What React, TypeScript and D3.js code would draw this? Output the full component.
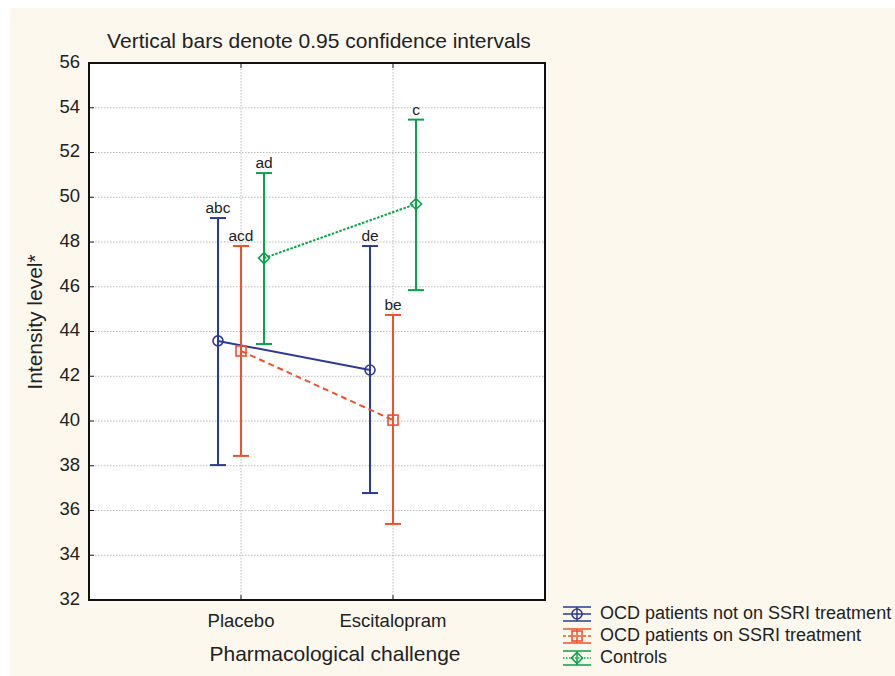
import * as d3 from 'd3';
import React from "react";

const categories = ["Placebo", "Escitalopram"];
const yTicks = [32, 34, 36, 38, 40, 42, 44, 46, 48, 50, 52, 54, 56];

const seriesNames = ["OCD patients not on SSRI treatment", "OCD patients on SSRI treatment", "Controls"];
const seriesColors = ["#2b3a97", "#f0502a", "#0aa24a"];
const seriesDash = ["", "6 4", "2.5 1.5"];
const seriesOffset = [-1, 0, 1];

const means = [[43.58, 42.28], [43.13, 40.04], [47.28, 49.7]];
const upper = [[49.07, 47.82], [47.82, 44.74], [51.08, 53.47]];
const lower = [[38.03, 36.78], [38.44, 35.4], [43.44, 45.85]];
const letters = [["abc", "de"], ["acd", "be"], ["ad", "c"]];

const font = "'Liberation Sans', Arial, sans-serif";

function Marker({ i, x, y, color }: { i: number; x: number; y: number; color: string }) {
    if (i === 0) return <circle cx={x} cy={y} r={5} fill="none" stroke={color} strokeWidth={1.6} />;
    if (i === 1) return <rect x={x - 5} y={y - 5} width={10} height={10} fill="none" stroke={color} strokeWidth={1.6} />;
    return <path d={`M${x},${y - 5.5}L${x + 5.5},${y}L${x},${y + 5.5}L${x - 5.5},${y}Z`} fill="none" stroke={color} strokeWidth={1.6} />;
}

export default function App() {
    const W = 895, H = 676;
    const m = { left: 89, right: 545, top: 63, bottom: 600 };
    const x = d3.scaleLinear().domain([0, 3]).range([m.left, m.right]);
    const y = d3.scaleLinear().domain([32, 56]).range([m.bottom, m.top]);
    const off = 23;
    const line = d3.line<[number, number]>().x(d => d[0]).y(d => d[1]);

    return (
        <svg width={W} height={H} style={{ position: "absolute", left: 0, top: 0 }} fontFamily={font}>
            <rect x={10} y={8} width={W - 10} height={H - 8} fill="#fcf8ee" />
            <rect x={m.left} y={m.top} width={m.right - m.left} height={m.bottom - m.top} fill="#fff" />
            {yTicks.map(t => (
                <g key={t}>
                    {t > 32 && t < 56 && <line x1={m.left} x2={m.right} y1={y(t)} y2={y(t)} stroke="#bbb" strokeDasharray="1.5 1.5" />}
                    <line x1={m.left} x2={m.left + 5} y1={y(t)} y2={y(t)} stroke="#222" />
                    <text x={80} y={y(t)} textAnchor="end" dominantBaseline="middle" fontSize={18.5} fill="#222">{t}</text>
                </g>
            ))}
            {categories.map((c, ci) => (
                <g key={c}>
                    <line x1={x(ci + 1)} x2={x(ci + 1)} y1={m.top} y2={m.bottom} stroke="#bbb" strokeDasharray="1.5 1.5" />
                    <line x1={x(ci + 1)} x2={x(ci + 1)} y1={m.bottom} y2={m.bottom - 5} stroke="#222" />
                    <line x1={x(ci + 1)} x2={x(ci + 1)} y1={m.top} y2={m.top + 5} stroke="#222" />
                    <text x={x(ci + 1)} y={627} textAnchor="middle" fontSize={18.5} fill="#222">{c}</text>
                </g>
            ))}
            <rect x={m.left} y={m.top} width={m.right - m.left} height={m.bottom - m.top} fill="none" stroke="#111" strokeWidth={2} />

            {seriesNames.map((s, si) => {
                const col = seriesColors[si];
                const pts: [number, number][] = means[si].map((v, ci) => [x(ci + 1) + seriesOffset[si] * off, y(v)]);
                return (
                    <g key={s}>
                        <path d={line(pts) ?? undefined} fill="none" stroke={col} strokeWidth={2} strokeDasharray={seriesDash[si]} />
                        {means[si].map((v, ci) => {
                            const cx = x(ci + 1) + seriesOffset[si] * off;
                            return (
                                <g key={ci}>
                                    <line x1={cx} x2={cx} y1={y(upper[si][ci])} y2={y(lower[si][ci])} stroke={col} strokeWidth={2} />
                                    <line x1={cx - 8} x2={cx + 8} y1={y(upper[si][ci])} y2={y(upper[si][ci])} stroke={col} strokeWidth={2} />
                                    <line x1={cx - 8} x2={cx + 8} y1={y(lower[si][ci])} y2={y(lower[si][ci])} stroke={col} strokeWidth={2} />
                                    <Marker i={si} x={cx} y={y(v)} color={col} />
                                    <text x={cx} y={y(upper[si][ci]) - 5} textAnchor="middle" fontSize={15.5} fill="#222">{letters[si][ci]}</text>
                                </g>
                            );
                        })}
                    </g>
                );
            })}

            <text x={319} y={48} textAnchor="middle" fontSize={21} fill="#222">Vertical bars denote 0.95 confidence intervals</text>
            <text transform={`translate(42,322) rotate(-90)`} textAnchor="middle" fontSize={21} fill="#222">Intensity level*</text>
            <text x={335} y={661} textAnchor="middle" fontSize={21} fill="#222">Pharmacological challenge</text>

            {seriesNames.map((s, si) => {
                const ly = 614 + si * 22;
                const col = seriesColors[si];
                return (
                    <g key={s}>
                        <line x1={563} x2={591} y1={ly - 7} y2={ly - 7} stroke={col} strokeWidth={1.5} />
                        <line x1={563} x2={591} y1={ly + 7} y2={ly + 7} stroke={col} strokeWidth={1.5} />
                        <line x1={563} x2={591} y1={ly} y2={ly} stroke={col} strokeWidth={1.5} strokeDasharray={seriesDash[si] ? (si === 1 ? "3 2" : "1.5 1.5") : ""} />
                        <line x1={577} x2={577} y1={ly - 7} y2={ly + 7} stroke={col} strokeWidth={1.5} />
                        <Marker i={si} x={577} y={ly} color={col} />
                        <text x={600} y={ly} dominantBaseline="middle" fontSize={18} fill="#222">{s}</text>
                    </g>
                );
            })}
        </svg>
    );
}
